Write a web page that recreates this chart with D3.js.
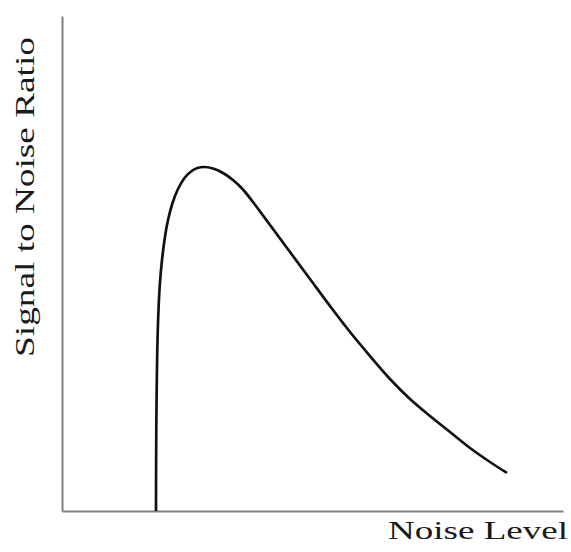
<!DOCTYPE html>
<html>
<head>
<meta charset="utf-8">
<script src="https://cdn.jsdelivr.net/npm/d3@7"></script>
<style>
  html, body { margin: 0; padding: 0; background: #fff; }
  svg { display: block; }
</style>
</head>
<body>
<svg id="chart" width="571" height="552"></svg>
<script>
// Curve (arbitrary units, 0-100 on both axes)
const noiseLevel = [18.76, 18.78, 18.82, 18.90, 19.02, 19.22, 19.52, 19.92, 20.46, 21.16, 22.06, 23.15, 24.45, 25.75, 27.05, 28.34,
                    30.14, 32.14, 34.13, 36.13, 38.12, 40.12, 42.12, 45.51, 49.50, 53.49, 57.49, 61.48, 65.47, 69.46, 73.45, 77.45, 81.44, 85.43, 88.82];
const snr        = [0.00, 8.28, 16.36, 24.44, 32.53, 39.60, 45.66, 50.30, 54.75, 58.79, 62.22, 65.05, 67.27, 68.59, 69.29, 69.49,
                    69.19, 68.28, 66.87, 64.95, 62.42, 59.70, 56.97, 52.32, 46.87, 41.41, 36.16, 31.31, 26.67, 22.63, 19.19, 15.96, 12.73, 9.90, 7.68];
const xLabel = "Noise Level";
const yLabel = "Signal to Noise Ratio";

const svg = d3.select("#chart");
const x = d3.scaleLinear().domain([0, 100]).range([62, 563]);
const y = d3.scaleLinear().domain([0, 100]).range([511, 16]);

const axisColor = "#808080";

const gx = svg.append("g")
  .attr("transform", `translate(0,${y(0)})`)
  .call(d3.axisBottom(x).tickValues([]).tickSizeOuter(0));
const gy = svg.append("g")
  .attr("transform", `translate(${x(0)},0)`)
  .call(d3.axisLeft(y).tickValues([]).tickSizeOuter(0));
[gx, gy].forEach(g => g.select(".domain").attr("stroke", axisColor).attr("stroke-width", 2));

const pts = noiseLevel.map((v, i) => [v, snr[i]]);
const line = d3.line()
  .x(d => x(d[0]))
  .y(d => y(d[1]))
  .curve(d3.curveCatmullRom.alpha(0.5));

svg.append("path")
  .datum(pts)
  .attr("d", line)
  .attr("fill", "none")
  .attr("stroke", "#111")
  .attr("stroke-width", 2.7)
  .attr("stroke-linecap", "butt")
  .attr("stroke-linejoin", "round");

const font = "'Liberation Serif', 'DejaVu Serif', serif";

// x label, stretched horizontally to the reference's width
const gxl = svg.append("g");
const tx = gxl.append("text")
  .attr("font-family", font)
  .attr("font-size", 26)
  .attr("fill", "#1a1a1a")
  .text(xLabel);
const wx = tx.node().getComputedTextLength();
gxl.attr("transform", `translate(388,539) scale(${180 / wx},1)`);

// y label, rotated and stretched along its length
const gyl = svg.append("g");
const ty = gyl.append("text")
  .attr("text-anchor", "middle")
  .attr("font-family", font)
  .attr("font-size", 27)
  .attr("fill", "#1a1a1a")
  .text(yLabel);
const wy = ty.node().getComputedTextLength();
gyl.attr("transform", `translate(34,197) rotate(-90) scale(${320 / wy},1)`);
</script>
</body>
</html>
